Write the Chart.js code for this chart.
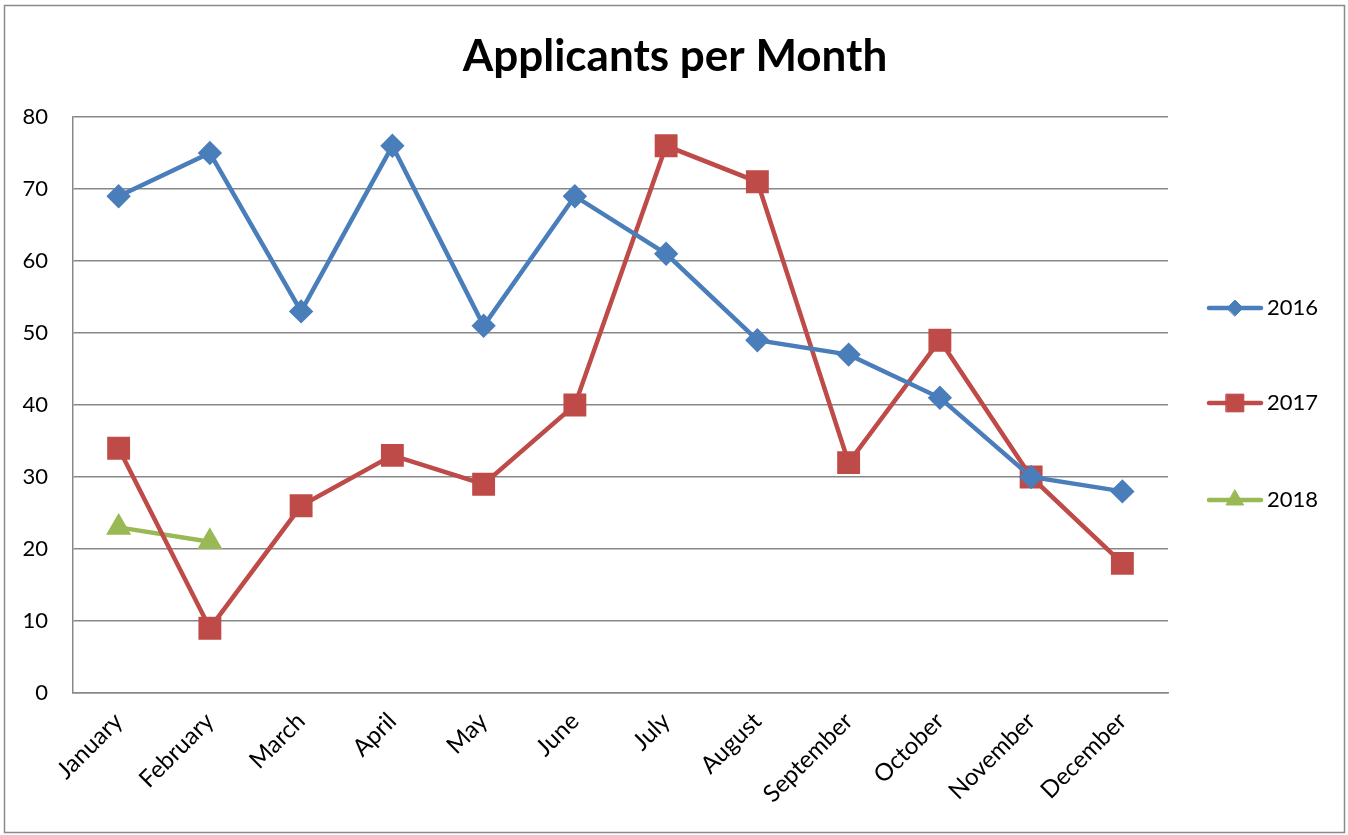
<!DOCTYPE html>
<html>
<head>
<meta charset="utf-8">
<script src="https://cdn.jsdelivr.net/npm/chart.js@4"></script>
<style>
  html, body { margin: 0; padding: 0; background: #fff; }
  #wrap { width: 1348px; height: 835px; position: relative; }
</style>
</head>
<body>
<div id="wrap"><canvas id="chart" width="1348" height="835"></canvas></div>
<script>
// data
const months = ['January', 'February', 'March', 'April', 'May', 'June',
                'July', 'August', 'September', 'October', 'November', 'December'];
const apps2016 = [69, 75, 53, 76, 51, 69, 61, 49, 47, 41, 30, 28];
const apps2017 = [34, 9, 26, 33, 29, 40, 76, 71, 32, 49, 30, 18];
const apps2018 = [23, 21, null, null, null, null, null, null, null, null, null, null];
const yTicks = [0, 10, 20, 30, 40, 50, 60, 70, 80];
const chartTitle = 'Applicants per Month';

const FONT = 'Lato, "Open Sans", sans-serif';
const gridGray = '#878787';

// title centred on the whole picture, not just the plot
const pageTitle = {
  id: 'pageTitle',
  afterDraw(chart) {
    const ctx = chart.ctx;
    ctx.save();
    ctx.fillStyle = '#000';
    ctx.font = 'bold 44px ' + FONT;
    ctx.textAlign = 'center';
    ctx.textBaseline = 'alphabetic';
    ctx.fillText(chartTitle, 675, 71);
    ctx.restore();
  }
};

// legend on the right, line + marker like the office chart
const sideLegend = {
  id: 'sideLegend',
  afterDraw(chart) {
    const ctx = chart.ctx;
    const rows = [308, 403, 500];
    chart.data.datasets.forEach((ds, i) => {
      const y = rows[i];
      ctx.save();
      ctx.strokeStyle = ds.borderColor;
      ctx.lineWidth = ds.borderWidth;
      ctx.lineCap = 'round';
      ctx.beginPath();
      ctx.moveTo(1209, y);
      ctx.lineTo(1261, y);
      ctx.stroke();
      ctx.fillStyle = ds.pointBackgroundColor;
      ctx.strokeStyle = ds.pointBackgroundColor;
      ctx.lineWidth = 1;
      Chart.helpers.drawPoint(ctx, {
        pointStyle: ds.pointStyle,
        radius: ds.legendRadius,
        borderWidth: 1
      }, 1235, y);
      ctx.fillStyle = '#000';
      ctx.font = '22px ' + FONT;
      ctx.textAlign = 'left';
      ctx.textBaseline = 'middle';
      ctx.fillText(ds.label, 1267, y);
      ctx.restore();
    });
  }
};

const frame = {
  id: 'frame',
  beforeDraw(chart) {
    const ctx = chart.ctx;
    ctx.save();
    ctx.fillStyle = '#fff';
    ctx.fillRect(0, 0, chart.width, chart.height);
    ctx.strokeStyle = '#8a8a8a';
    ctx.lineWidth = 1.5;
    ctx.strokeRect(4.5, 5.5, 1340, 827);
    ctx.restore();
  }
};

const ctx = document.getElementById('chart').getContext('2d');
new Chart(ctx, {
  type: 'line',
  data: {
    labels: months,
    datasets: [
      {
        label: '2016',
        data: apps2016,
        borderColor: '#4A7EBB',
        pointBackgroundColor: '#4A7EBB',
        pointBorderColor: '#4A7EBB',
        pointStyle: 'rectRot',
        pointRadius: 9,
        legendRadius: 8,
        borderWidth: 4.5
      },
      {
        label: '2017',
        data: apps2017,
        borderColor: '#BE4B48',
        pointBackgroundColor: '#BE4B48',
        pointBorderColor: '#BE4B48',
        pointStyle: 'rect',
        pointRadius: 13,
        legendRadius: 12.5,
        borderWidth: 4.5
      },
      {
        label: '2018',
        data: apps2018,
        borderColor: '#98B954',
        pointBackgroundColor: '#98B954',
        pointBorderColor: '#98B954',
        pointStyle: 'triangle',
        pointRadius: 10,
        legendRadius: 10,
        borderWidth: 4.5
      }
    ]
  },
  options: {
    responsive: false,
    animation: false,
    layout: { padding: { left: 0, right: 180, top: 117, bottom: 0 } },
    plugins: {
      legend: { display: false },
      tooltip: { enabled: false },
      title: { display: false }
    },
    scales: {
      x: {
        offset: true,
        grid: { display: false, drawTicks: false },
        border: { display: true, color: gridGray, width: 1.5 },
        ticks: {
          autoSkip: false,
          minRotation: 45,
          maxRotation: 45,
          padding: 14,
          color: '#000',
          font: { family: FONT, size: 24 }
        },
        afterFit(scale) { scale.height = 142; }
      },
      y: {
        min: 0,
        max: 80,
        afterBuildTicks(scale) { scale.ticks = yTicks.map(v => ({ value: v })); },
        grid: { color: gridGray, lineWidth: 1.5, drawTicks: false },
        border: { display: true, color: gridGray, width: 1.5 },
        ticks: {
          padding: 25,
          color: '#000',
          font: { family: FONT, size: 22 }
        },
        afterFit(scale) { scale.width = 73; }
      }
    }
  },
  plugins: [frame, pageTitle, sideLegend]
});
</script>
</body>
</html>
